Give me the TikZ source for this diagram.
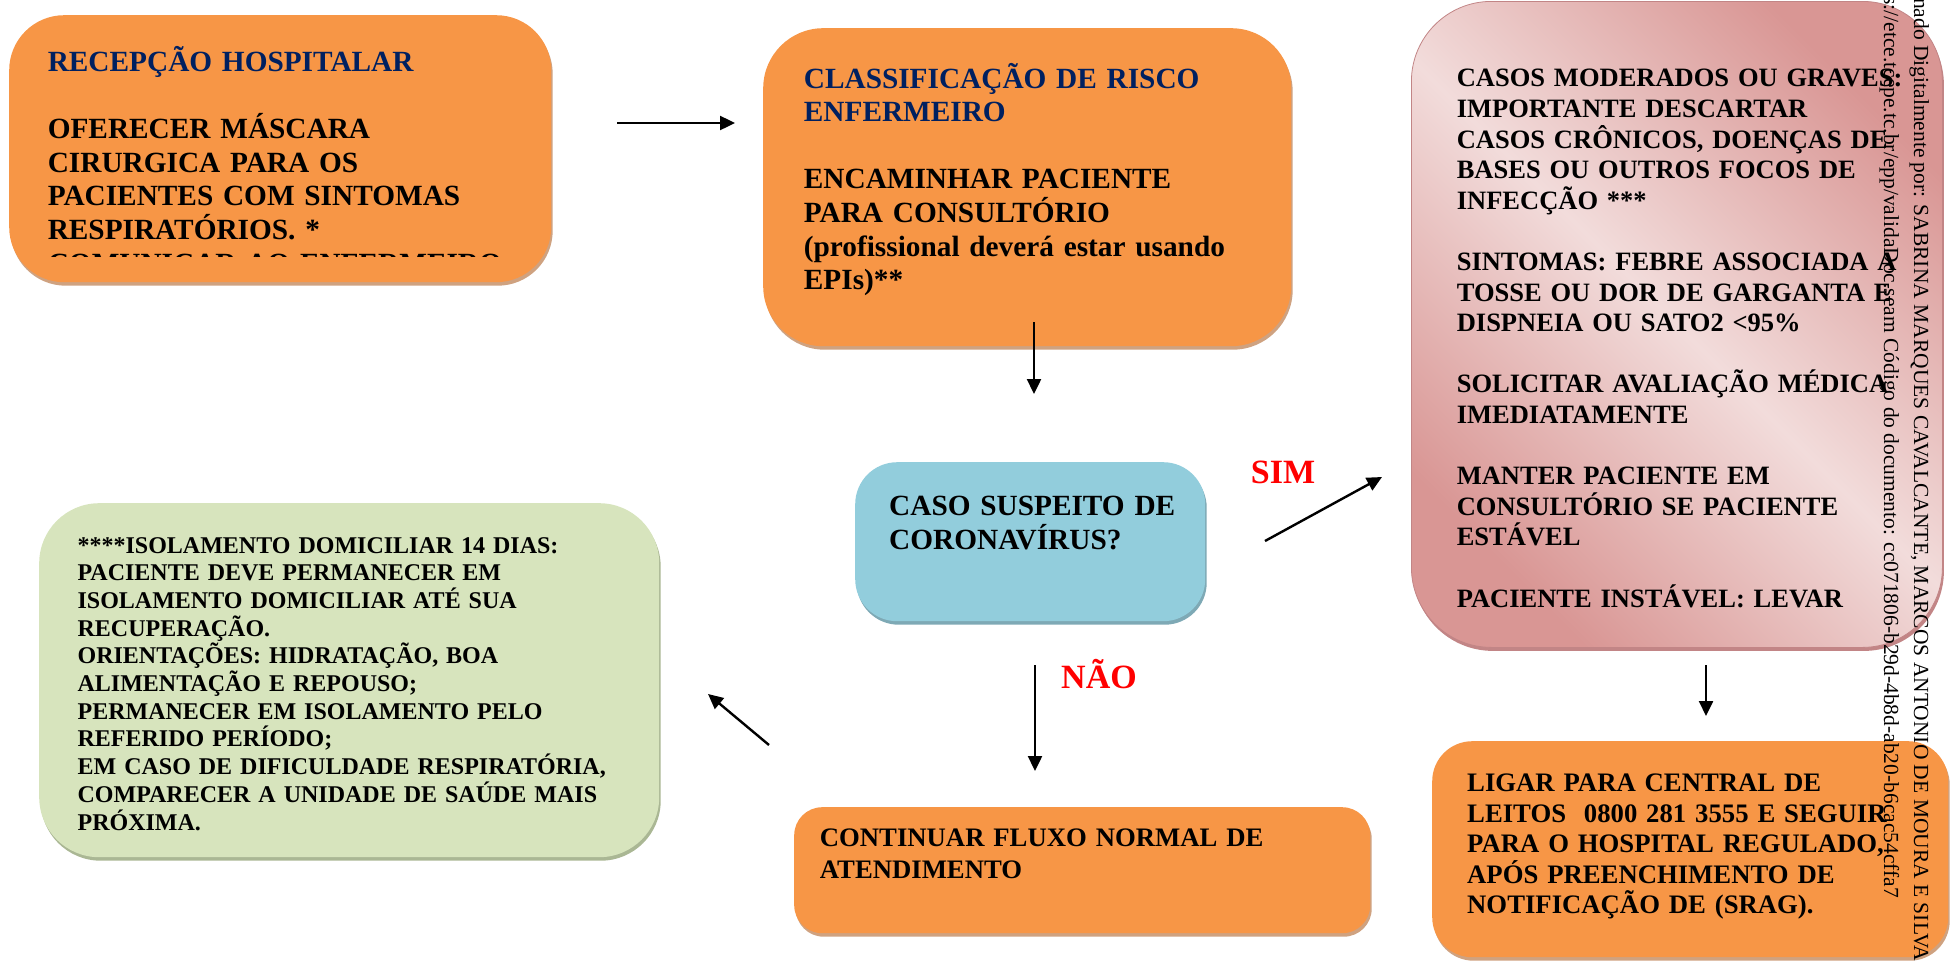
\documentclass[tikz,border=0pt]{standalone}
\usepackage{fontspec}
\setmainfont{Liberation Serif}
\usepackage{xcolor}
\usetikzlibrary{positioning,shadows,arrows.meta}

\definecolor{boxorange}{HTML}{F79646}
\definecolor{orangeshadow}{HTML}{CFA280}
\definecolor{boxblue}{HTML}{92CDDC}
\definecolor{blueshadow}{HTML}{7EA9B5}
\definecolor{boxgreen}{HTML}{D7E4BD}
\definecolor{greenshadow}{HTML}{AAB794}
\definecolor{pinklight}{HTML}{F2DCDB}
\definecolor{pinkdark}{HTML}{D99694}
\definecolor{pinkshadow}{HTML}{C28586}
\definecolor{titleblue}{HTML}{002060}
\definecolor{answerred}{HTML}{FF0000}

\newcommand{\cardbig}{\fontsize{29.3pt}{33.6pt}\selectfont\bfseries}
\newcommand{\cardmid}{\fontsize{26.5pt}{30.6pt}\selectfont\bfseries}
\newcommand{\cardsmall}{\fontsize{24pt}{27.7pt}\selectfont\bfseries}

\tikzset{
  card/.style={anchor=north west, inner sep=0pt, rounded corners=#1},
  orangecard/.style={card=#1, fill=boxorange,
    drop shadow={shadow xshift=1.5pt, shadow yshift=-3.5pt, fill=orangeshadow, opacity=1}},
  bluecard/.style={card=#1, fill=boxblue,
    drop shadow={shadow xshift=1.5pt, shadow yshift=-3.5pt, fill=blueshadow, opacity=1}},
  greencard/.style={card=#1, fill=boxgreen,
    drop shadow={shadow xshift=1.5pt, shadow yshift=-3.5pt, fill=greenshadow, opacity=1}},
  pinkcard/.style={card=#1, draw=pinkshadow, line width=0.8pt,
    top color=pinkdark, bottom color=pinkdark, middle color=pinklight,
    shading angle=-45,
    drop shadow={shadow xshift=1.5pt, shadow yshift=-3.5pt, fill=pinkshadow, opacity=1}},
  cardtext/.style={anchor=base west, inner sep=0pt, text width=#1, align=left},
  flow/.style={line width=2.4pt, -{Triangle[length=15pt, width=14pt]}},
  answer/.style={anchor=base, inner sep=0pt, text=answerred, font=\fontsize{34pt}{40pt}\selectfont\bfseries},
  wmtext/.style={anchor=base west, rotate=-90, inner sep=0pt, font=\fontsize{21.5pt}{26pt}\selectfont}
}

\begin{document}
\begin{tikzpicture}[x=1pt, y=-1pt]
  \path[use as bounding box, clip] (0,0) rectangle (1954,964);

  \node[orangecard=55pt, minimum width=542pt, minimum height=267pt] (rec) at (9,15) {};
  \node[orangecard=60pt, minimum width=528pt, minimum height=318pt] (cls) at (763,28) {};
  \node[bluecard=42pt, minimum width=350pt, minimum height=159pt] (sus) at (855,462) {};
  \node[pinkcard=80pt, minimum width=531pt, minimum height=646pt] (grav) at (1411,1) {};
  \node[orangecard=40pt, minimum width=516pt, minimum height=216pt] (lig) at (1432,741) {};
  \node[orangecard=28pt, minimum width=576pt, minimum height=126pt] (cont) at (794,807) {};
  \node[greencard=60pt, minimum width=620pt, minimum height=354pt] (iso) at (39,503) {};

  \begin{scope}
    \clip (rec.north west) rectangle (551,256);
    \node[below right=56.4pt and 38.6pt of rec.north west, cardtext=490pt, font=\cardbig] (rectxt)
      {{\color{titleblue}RECEPÇÃO HOSPITALAR}\\[33.6pt]
       OFERECER MÁSCARA\\CIRURGICA PARA OS\\PACIENTES COM SINTOMAS\\RESPIRATÓRIOS. *\\
       COMUNICAR AO ENFERMEIRO};
  \end{scope}

  \node[below right=60pt and 40.7pt of cls.north west, cardtext=480pt, font=\cardbig] (clstxt)
    {{\color{titleblue}CLASSIFICAÇÃO DE RISCO\\ENFERMEIRO}\\[33.6pt]
     ENCAMINHAR PACIENTE\\PARA CONSULTÓRIO\\(profissional deverá estar usando\\EPIs)**};

  \node[below right=53.7pt and 34pt of sus.north west, cardtext=310pt, font=\cardbig] (sustxt)
    {CASO SUSPEITO DE\\CORONAVÍRUS?};

  \node[below right=85.8pt and 45.6pt of grav.north west, cardtext=480pt, font=\cardmid] (gravtxt)
    {CASOS MODERADOS OU GRAVES:\\IMPORTANTE DESCARTAR\\CASOS CRÔNICOS, DOENÇAS DE\\
     BASES OU OUTROS FOCOS DE\\INFECÇÃO ***\\[30.6pt]
     SINTOMAS: FEBRE ASSOCIADA A\\TOSSE OU DOR DE GARGANTA E\\DISPNEIA OU SATO2 <95\%\\[30.6pt]
     SOLICITAR AVALIAÇÃO MÉDICA\\IMEDIATAMENTE\\[30.6pt]
     MANTER PACIENTE EM\\CONSULTÓRIO SE PACIENTE\\ESTÁVEL\\[30.6pt]
     PACIENTE INSTÁVEL: LEVAR};

  \node[below right=50.8pt and 35pt of lig.north west, cardtext=470pt, font=\fontsize{26.7pt}{30.4pt}\selectfont\bfseries] (ligtxt)
    {LIGAR PARA CENTRAL DE\\LEITOS~ 0800 281 3555 E SEGUIR\\PARA O HOSPITAL REGULADO,\\
     APÓS PREENCHIMENTO DE\\NOTIFICAÇÃO DE (SRAG).};

  \node[below right=39.8pt and 25.7pt of cont.north west, cardtext=540pt, font=\fontsize{26.7pt}{32pt}\selectfont\bfseries] (conttxt)
    {CONTINUAR FLUXO NORMAL DE\\ATENDIMENTO};

  \node[below right=50pt and 38.4pt of iso.north west, cardtext=570pt, font=\cardsmall] (isotxt)
    {****ISOLAMENTO DOMICILIAR 14 DIAS:\\PACIENTE DEVE PERMANECER EM\\
     ISOLAMENTO DOMICILIAR ATÉ SUA\\RECUPERAÇÃO.\\ORIENTAÇÕES: HIDRATAÇÃO, BOA\\
     ALIMENTAÇÃO E REPOUSO;\\PERMANECER EM ISOLAMENTO PELO\\REFERIDO PERÍODO;\\
     EM CASO DE DIFICULDADE RESPIRATÓRIA,\\COMPARECER A UNIDADE DE SAÚDE MAIS\\PRÓXIMA.};

  \coordinate (r1) at (617,123);
  \coordinate (r2) at (735,123);
  \coordinate (c1) at (1034,322);
  \coordinate (c2) at (1034,394);
  \coordinate (s1) at (1265,541);
  \coordinate (s2) at (1382,477);
  \coordinate (n1) at (1035,665);
  \coordinate (n2) at (1035,771);
  \coordinate (g1) at (1706,665);
  \coordinate (g2) at (1706,716);
  \coordinate (h1) at (769,745);
  \coordinate (h2) at (708,694);

  \draw[flow] (r1) -- (r2);
  \draw[flow] (c1) -- (c2);
  \draw[flow] (s1) -- (s2);
  \draw[flow] (n1) -- (n2);
  \draw[flow] (g1) -- (g2);
  \draw[flow] (h1) -- (h2);

  \node[answer] (sim) at (1283,483) {SIM};
  \node[answer] (nao) at (1099,688) {NÃO};

  \node[wmtext] (wmsign) at (1914,-8)
    {inado Digitalmente por: SABRINA MARQUES CAVALCANTE, MARCOS ANTONIO DE MOURA E SILVA};
  \node[wmtext] (wmcode) at (1884,-4)
    {s://etce.tcepe.tc.br/epp/validaDoc.seam Código do documento: cc071806-b29d-4b8d-ab20-b6cac54cffa7};
\end{tikzpicture}
\end{document}
